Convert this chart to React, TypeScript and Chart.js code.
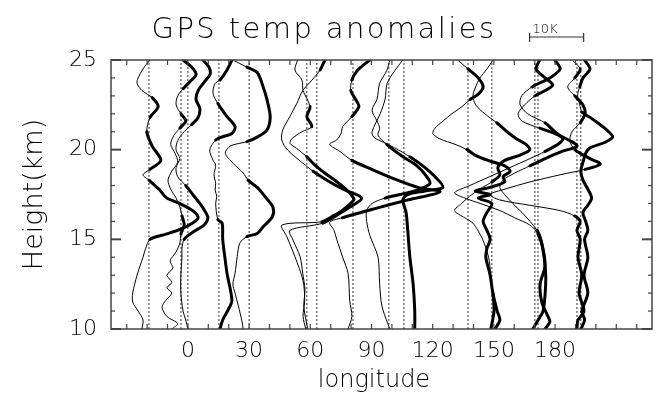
import React, { useEffect, useRef } from 'react';
import { Chart, registerables } from 'chart.js';

Chart.register(...registerables);

// axis ranges
const X_MIN = -37.7;
const X_MAX = 227.5;
const Y_MIN = 10;
const Y_MAX = 25;
const X_TICK_LABELS = [0, 30, 60, 90, 120, 150, 180];
const Y_TICK_LABELS = [10, 15, 20, 25];

// 1 K of anomaly drawn as this many degrees of longitude (10K bar)
const K_TO_DEG = 2.65;
const SCALE_BAR_K = 10;
const SCALE_BAR_LON = 167.5;

// longitude of each profile (dotted baseline)
const BASE_LON = [-19.1, -3.4, 0, 15.2, 30, 58.3, 63.2, 80.9, 98.5, 105.9, 137.3, 149.0, 170.1, 171.6, 190.7, 192.6];

// profiles: [height km, temperature anomaly K]
const prof01 = [[25,0.2],[24.5,-1.1],[24,-2.0],[23.7,-2.2],[23.3,-1.3],[22.9,0.6],[22.4,1.7],[21.8,0.2],[21,-0.4],[20.2,0.6],[19.4,2.2],[18.9,0.2],[18.6,-1.1],[18.3,0],[17.75,2.0],[17.3,3.3],[17.0,5.7],[16.6,8.1],[16.2,9.1],[15.9,8.0],[15.6,6.1],[15.3,3.3],[15.0,0.2],[14.5,-0.6],[14,-1.1],[13,-2.2],[12,-3.0],[11.5,-3.0],[11,-2.0],[10.5,-1.1],[10,-1.3]];
const prof02 = [[25,0.4],[24.6,2.0],[24.2,2.8],[23.8,1.7],[23.4,0.4],[23,-0.6],[22.5,-0.9],[22,0],[21.6,0.9],[21.2,-0.2],[20.8,-1.3],[20.3,-1.9],[19.8,-1.1],[19.3,-0.6],[18.8,-1.7],[18.3,-2.4],[17.8,-1.9],[17.3,-0.9],[16.8,-0.2],[16.3,0.2],[15.8,0.6],[15.3,0],[14.8,-0.2],[14.3,-0.9],[13.8,-2.0],[13.4,-1.5],[13.0,-2.6],[12.6,-1.7],[12.3,-2.6],[12.0,-1.7],[11.6,-2.8],[11.2,-3.5],[10.7,-2.6],[10.3,-0.6],[10,-1.7]];
const prof03 = [[25,2.8],[24.6,3.9],[24.2,4.1],[23.8,3.1],[23.3,1.9],[22.8,1.5],[22.3,2.2],[21.8,1.9],[21.4,0.7],[21,-0.7],[20.5,-1.9],[20,-2.2],[19.5,-1.5],[19,-2.2],[18.5,-1.9],[18,-0.4],[17.5,0.9],[17,2.2],[16.6,3.1],[16.2,3.7],[15.8,3.0],[15.4,0.9],[15,-0.7],[14.5,-1.1],[14,-1.1],[13,-1.3],[12,-1.3],[11,-0.9],[10.5,-0.4],[10,0]];
const prof04 = [[25,2.4],[24.44,1.5],[23.88,0.2],[23.7,-0.7],[23.14,-1.1],[22.58,-0.2],[22.3,0.4],[21.84,1.5],[21.28,3.0],[20.9,2.4],[20.72,0.7],[20.54,-0.6],[19.98,-1.7],[19.42,-1.1],[19.14,-0.6],[18.6,-0.9],[18.12,-0.6],[17.75,-0.7],[17.4,-0.4],[17.0,-0.6],[16.1,-0.2],[15.9,0.6],[15,0.7],[14,1.1],[13.1,1.5],[11.6,2.4],[11.06,1.7],[10.5,0.7],[10,0.2]];
const prof05 = [[25,-3.0],[24.6,-0.4],[24.3,1.5],[23.5,2.6],[22.8,3.3],[21.84,3.9],[21.1,3.3],[20.7,1.5],[20.45,-0.4],[20.2,-3.5],[19.8,-4.4],[19.25,-3.0],[18.7,-1.1],[18.3,-0.2],[17.9,1.5],[17.4,2.9],[16.8,4.4],[16.26,4.3],[15.7,2.6],[15.33,1.5],[15.15,-0.4],[14.8,-1.7],[14.03,-2.2],[13.1,-2.6],[12.5,-3.0],[12,-2.6],[11.3,-2.0],[10.4,-1.3],[10,-1.1]];
const prof06 = [[25,-1.7],[24.44,-2.2],[23.88,-0.9],[23.3,-0.7],[22.4,0.6],[21.84,0],[21.28,0.9],[21,-0.9],[20.6,-2.8],[20.35,-3.1],[20.07,-1.9],[19.6,0],[19.14,1.5],[18.7,3.3],[18.2,5.6],[17.75,7.4],[17.37,8.5],[17.2,8.7],[16.6,6.5],[16.26,4.6],[15.98,2.8],[15.8,-4.6],[15.15,-3.7],[14.03,-2.2],[12.7,-0.7],[11.6,-0.4],[10.7,-0.7],[10,-0.2]];
const prof07 = [[25,1.5],[24.44,0.6],[23.88,-0.9],[23.3,-2.6],[22.58,-3.7],[21.84,-5.0],[21.1,-6.3],[20.54,-6.5],[19.98,-5.4],[19.25,-2.6],[18.8,-0.7],[18.2,2.4],[17.75,5.2],[17.3,8.3],[16.8,6.1],[16.35,3.7],[15.9,1.1],[15.5,-5.0],[14.96,-4.4],[14.03,-3.1],[13.1,-2.6],[12.2,-2.2],[11.25,-2.4],[10,-1.7]];
const prof08 = [[25,3.1],[24.44,0.9],[23.88,-0.2],[23.3,-0.4],[22.75,0.6],[22.4,1.1],[21.84,-0.2],[21.28,-1.9],[20.9,-2.2],[20.54,-3.0],[20.3,-4.3],[19.9,-2.4],[19.4,-0.2],[18.9,3.5],[18.4,7.4],[17.9,12.0],[17.65,16.1],[17.2,10.2],[16.7,3.9],[16.2,-2.0],[15.95,-4.3],[15.5,-3.5],[15,-3.0],[14,-1.9],[13.1,-0.9],[11.6,-0.6],[10.7,-0.2],[10,-0.9]];
const prof09 = [[25,0.2],[24.4,-0.4],[23.7,-1.7],[22.8,-2.2],[22.2,-3.1],[21.6,-2.2],[21.2,-1.7],[20.8,-2.0],[20.3,-0.4],[19.6,2.6],[19.1,5.2],[18.5,7.0],[18.1,7.6],[17.7,4.8],[17.5,2.0],[17.3,-0.7],[17,-3.1],[16.6,-4.1],[16,-4.1],[15.2,-3.5],[14,-2.0],[12.5,-1.7],[11.3,-1.3],[10.3,-0.2],[10,0.2]];
const prof10 = [[25,-0.2],[24.4,-1.7],[23.7,-3.1],[22.8,-3.5],[22,-4.4],[21,-5.9],[20.7,-5.6],[20.5,-4.4],[20.1,-1.7],[19.6,1.1],[19,3.9],[18.5,5.7],[17.9,7.2],[17.7,3.9],[17.5,0.7],[17.2,-0.2],[16.5,0.4],[15.5,0.7],[14,1.1],[12.5,1.7],[11,2.0],[10,2.0]];
const prof11 = [[25,-1.9],[24.5,0],[24,1.9],[23.5,2.8],[23.1,1.9],[22.8,0.4],[22.4,-1.1],[22,-3.0],[21.6,-4.6],[21.2,-6.1],[20.9,-6.5],[20.6,-5.2],[20.3,-2.4],[20,-0.2],[19.7,1.3],[19.4,3.7],[19.1,6.8],[18.8,7.8],[18.5,6.5],[18.2,6.8],[17.9,4.1],[17.7,1.3],[17.5,4.1],[17.3,1.9],[17,4.4],[16.5,3.5],[16,2.8],[15.5,3.5],[15,4.1],[14.5,3.5],[14,3.3],[13,4.1],[12,4.6],[11,5.4],[10.5,5.9],[10,5.0]];
const prof12 = [[25,0.2],[24.5,-0.9],[24,-2.2],[23.5,-3.0],[23,-3.5],[22.5,-3.0],[22,-1.3],[21.5,0.9],[21,2.8],[20.6,4.6],[20.3,6.3],[20,7.0],[19.7,5.2],[19.4,2.4],[19,1.1],[18.6,1.5],[18.2,0],[17.9,-1.7],[17.5,-3.7],[17,-5.6],[16.6,-6.9],[16.2,-5.0],[15.9,-3.5],[15.5,-2.6],[15,-1.7],[14,-0.6],[13,-0.2],[12,0.2],[11,0.4],[10,-0.2]];
const prof13 = [[25,0.9],[24.5,0.2],[24,1.9],[23.6,3.3],[23.3,1.9],[23,0],[22.5,-1.9],[22,-3.1],[21.6,-2.4],[21.2,0.9],[20.9,3.7],[20.5,6.5],[20.2,7.8],[19.9,5.0],[19.5,1.9],[19.1,-0.9],[18.7,-3.7],[18.3,-5.9],[17.9,-6.5],[17.5,-5.6],[17,-4.1],[16.5,-2.4],[16,-0.9],[15.5,0.4],[15,1.1],[14,1.7],[13,2.0],[12,1.9],[11,1.5],[10.5,0.6],[10,-0.4]];
const prof14 = [[25,3.1],[24.5,4.1],[24,2.2],[23.5,-1.1],[23,-3.0],[22.5,-3.3],[22,-1.9],[21.5,1.3],[21,3.1],[20.6,4.6],[20.3,3.7],[19.9,1.3],[19.5,-1.5],[19,-5.2],[18.5,-8.9],[18,-12.6],[17.6,-15.4],[17.3,-13.5],[17,-10.7],[16.6,-7.0],[16.2,-4.3],[15.8,-1.5],[15.3,0],[14.5,0.9],[13.5,1.3],[12.5,0.4],[11.5,0.7],[10.8,1.7],[10.4,2.2],[10,1.3]];
const prof15 = [[25,-0.9],[24.5,0.6],[24,-0.4],[23.5,-1.7],[23,-0.4],[22.5,1.1],[22,1.5],[21.5,0.6],[21,-0.9],[20.5,-1.3],[20,-0.4],[19.5,2.4],[19.2,4.3],[18.9,1.5],[18.6,-3.1],[18.2,-8.7],[17.8,-13.3],[17.5,-16.1],[17.2,-14.3],[16.9,-8.7],[16.6,-3.1],[16.3,-0.4],[16,0.6],[15.5,0],[15,0.6],[14,0.2],[13,0.9],[12,0.4],[11,1.3],[10.5,0.2],[10,0]];
const prof16 = [[25,0.7],[24.5,1.7],[24,0.4],[23.5,-0.2],[23,-0.6],[22.5,-0.2],[22.1,0.2],[21.8,1.7],[21.5,3.1],[21.1,4.8],[20.7,5.9],[20.4,4.4],[20.1,1.7],[19.8,0.9],[19.3,0.4],[18.8,0],[18.3,0.4],[17.8,1.3],[17.3,2.0],[16.9,1.3],[16.5,0.4],[16,0.9],[15.5,1.3],[15,0.7],[14,1.3],[13,0.6],[12,1.3],[11,0.2],[10.5,0.7],[10,0]];

const PROFILES = [prof01, prof02, prof03, prof04, prof05, prof06, prof07, prof08, prof09, prof10, prof11, prof12, prof13, prof14, prof15, prof16];

const TITLE = 'GPS temp anomalies';
const X_TITLE = 'longitude';
const Y_TITLE = 'Height(km)';

const FONT = '"DejaVu Sans", "Liberation Sans", sans-serif';
const WEIGHT = '300';

const decorPlugin = {
  id: 'decor',
  afterDatasetsDraw(chart: any) {
    const { ctx, chartArea: a, scales } = chart;
    const x = scales.x;
    const y = scales.y;
    ctx.save();
    ctx.strokeStyle = '#444';
    ctx.lineWidth = 1.5;
    ctx.strokeRect(a.left, a.top, a.right - a.left, a.bottom - a.top);
    const seg = (x0: number, y0: number, x1: number, y1: number) => {
      ctx.beginPath();
      ctx.moveTo(x0, y0);
      ctx.lineTo(x1, y1);
      ctx.stroke();
    };
    for (let v = Y_MIN; v <= Y_MAX; v++) {
      const py = y.getPixelForValue(v);
      const len = v % 5 === 0 ? 10 : 4;
      ctx.lineWidth = v % 5 === 0 ? 2 : 1.2;
      seg(a.left, py, a.left + len, py);
      seg(a.right, py, a.right - len, py);
    }
    ctx.lineWidth = 1.2;
    for (let v = -30; v <= 220; v += 10) {
      const px = x.getPixelForValue(v);
      seg(px, a.bottom, px, a.bottom - 5);
      seg(px, a.top, px, a.top + 5);
    }
    ctx.restore();
  },
  afterDraw(chart: any) {
    const { ctx, scales } = chart;
    const x = scales.x;
    ctx.save();
    ctx.fillStyle = '#000';
    ctx.font = WEIGHT + ' 29px ' + FONT;
    (ctx as any).letterSpacing = '2.4px';
    ctx.textAlign = 'center';
    ctx.textBaseline = 'alphabetic';
    ctx.fillText(TITLE, 324, 38);
    (ctx as any).letterSpacing = '0px';
    // x axis title
    ctx.font = WEIGHT + ' 24px ' + FONT;
    ctx.fillText(X_TITLE, 374, 387);
    // 10 K scale bar
    const x0 = x.getPixelForValue(SCALE_BAR_LON);
    const x1 = x.getPixelForValue(SCALE_BAR_LON + SCALE_BAR_K * K_TO_DEG);
    const yb = 37;
    ctx.strokeStyle = '#333';
    ctx.lineWidth = 1.2;
    ctx.beginPath();
    ctx.moveTo(x0, yb); ctx.lineTo(x1, yb);
    ctx.moveTo(x0, yb - 4); ctx.lineTo(x0, yb + 5);
    ctx.moveTo(x1, yb - 4); ctx.lineTo(x1, yb + 5);
    ctx.stroke();
    ctx.font = WEIGHT + ' 13px ' + FONT;
    ctx.textAlign = 'left';
    ctx.fillText(SCALE_BAR_K + 'K', x0 + 3, 33);
    ctx.restore();
  },
};

export default function App() {
  const ref = useRef<HTMLCanvasElement>(null);
  useEffect(() => {
    document.body.style.margin = '0';
    const canvas = ref.current;
    if (!canvas) return;
    const datasets: any[] = [];
    PROFILES.forEach((prof, i) => {
      const lon = BASE_LON[i];
      datasets.push({
        data: prof.map(([h, k]) => ({ x: lon + k * K_TO_DEG, y: h })),
        borderColor: '#000',
        borderWidth: 1,
        borderCapStyle: 'round',
        borderJoinStyle: 'round',
        pointRadius: 0,
        tension: 0.3,
        segment: {
          borderWidth: (c: any) =>
            (prof[c.p0DataIndex][1] + prof[c.p1DataIndex][1]) / 2 > 0 ? 3 : 1,
        },
      });
    });
    BASE_LON.forEach((lon) => {
      datasets.push({
        data: [{ x: lon, y: Y_MIN }, { x: lon, y: Y_MAX }],
        borderColor: '#333',
        borderWidth: 1,
        borderDash: [2, 2],
        pointRadius: 0,
        tension: 0,
      });
    });
    const tickFont = { family: FONT, size: 22, weight: WEIGHT };
    const chart = new Chart(canvas, {
      type: 'line',
      data: { datasets },
      options: {
        responsive: false,
        animation: false,
        devicePixelRatio: 1,
        layout: { padding: { top: 60, right: 5, left: 0, bottom: 0 } },
        plugins: { legend: { display: false }, tooltip: { enabled: false }, title: { display: false } },
        scales: {
          x: {
            type: 'linear',
            min: X_MIN,
            max: X_MAX,
            afterFit: (s: any) => { s.height = 65; },
            afterBuildTicks: (s: any) => { s.ticks = X_TICK_LABELS.map((v) => ({ value: v })); },
            ticks: { autoSkip: false, maxRotation: 0, padding: 9, color: '#000', font: tickFont },
            grid: { display: false, drawTicks: false },
            border: { display: false },
            title: { display: false },
          },
          y: {
            type: 'linear',
            min: Y_MIN,
            max: Y_MAX,
            afterFit: (s: any) => { s.width = 111; },
            afterBuildTicks: (s: any) => { s.ticks = Y_TICK_LABELS.map((v) => ({ value: v })); },
            ticks: { padding: 14, color: '#000', font: tickFont },
            grid: { display: false, drawTicks: false },
            border: { display: false },
            title: { display: true, text: Y_TITLE, color: '#000', font: { family: FONT, size: 27, weight: WEIGHT }, padding: { top: 19, bottom: 0 } },
          },
        },
      },
      plugins: [decorPlugin],
    });
    return () => chart.destroy();
  }, []);
  return <canvas ref={ref} width={657} height={394} style={{ display: 'block' }} />;
}
